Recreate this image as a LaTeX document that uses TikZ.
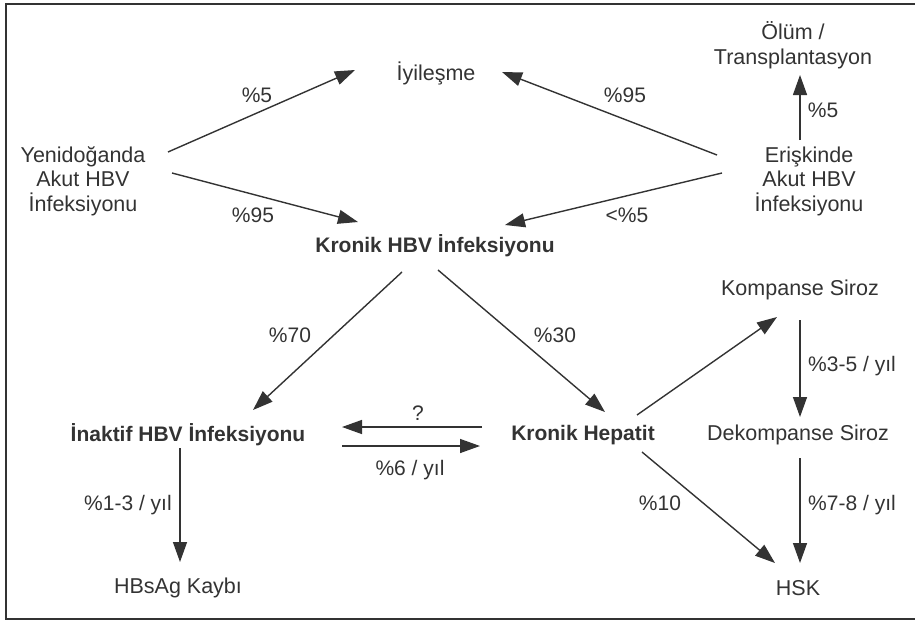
\documentclass[tikz,border=0pt]{standalone}
\usepackage{fontspec}
\setmainfont{Liberation Sans}
\usetikzlibrary{arrows.meta,calc}
\definecolor{ink}{HTML}{333333}

\begin{document}
\begin{tikzpicture}[
    x=1pt, y=-1pt,
    stage/.style={inner sep=0pt, align=center, text=ink, font=\fontsize{21.5}{24.5}\selectfont},
    keystage/.style={stage, font=\fontsize{21}{24}\selectfont\bfseries},
    rate/.style={inner sep=0pt, text=ink, font=\fontsize{21}{24}\selectfont},
    flow/.style={-{Triangle[length=20pt,width=14pt]}, line width=1.4pt, draw=ink}
]
\useasboundingbox (0,0) rectangle (915,621);
\draw[line width=2pt, ink] (915,4) -- (6,4) -- (6,619) -- (915,619);

% Stages
\node[stage] (yeni) at (83,181) {Yenidoğanda\\Akut HBV\\İnfeksiyonu};
\node[stage] (iyi) at (436,73) {İyileşme};
\node[stage] (olum) at (793,45) {Ölüm /\\Transplantasyon};
\node[stage] (eris) at (809,181) {Erişkinde\\Akut HBV\\İnfeksiyonu};
\node[keystage] (khbv) at (435,246) {Kronik HBV İnfeksiyonu};
\node[keystage] (inaktif) at (188,435) {İnaktif HBV İnfeksiyonu};
\node[keystage] (khep) at (583,435) {Kronik Hepatit};
\node[stage] (komp) at (800,290) {Kompanse Siroz};
\node[stage] (dekomp) at (798,435) {Dekompanse Siroz};
\node[stage] (hsk) at (798,588) {HSK};
\node[stage] (hbsag) at (178,588) {HBsAg Kaybı};

% Rates
\node[rate] (p5a) at (257,95) {\%5};
\node[rate] (p95a) at (253,215) {\%95};
\node[rate] (p95b) at (625,95) {\%95};
\node[rate] (p5b) at (627,215) {<\%5};
\node[rate] (p5c) at (823,110) {\%5};
\node[rate] (p70) at (290,335) {\%70};
\node[rate] (p30) at (555,335) {\%30};
\node[rate] (pq) at (418,413) {?};
\node[rate] (p6) at (410,470) {\%6 / yıl};
\node[rate] (p13) at (128,505) {\%1-3 / yıl};
\node[rate] (p35) at (852,366) {\%3-5 / yıl};
\node[rate] (p78) at (852,505) {\%7-8 / yıl};
\node[rate] (p10) at (660,503) {\%10};

% Acute infection
\draw[flow] ($(yeni)+(85,-29)$) -- ($(iyi)+(-81,-3)$);
\draw[flow] ($(yeni)+(89,-8)$) -- ($(khbv)+(-77,-24)$);
\draw[flow] ($(eris)+(-92,-26)$) -- ($(iyi)+(66,-1)$);
\draw[flow] ($(eris)+(-87,-8)$) -- ($(khbv)+(70,-21)$);
\draw[flow] ($(eris)+(-9,-41)$) -- ($(olum)+(7,30)$);

% Chronic infection
\draw[flow] ($(khbv)+(-33,26)$) -- ($(inaktif)+(65,-25)$);
\draw[flow] ($(khbv)+(3,24)$) -- ($(khep)+(22,-23)$);
\draw[flow] ($(khep)+(-101,-8)$) -- ($(inaktif)+(154,-8)$);
\draw[flow] ($(inaktif)+(154,11)$) -- ($(khep)+(-103,11)$);
\draw[flow] ($(inaktif)+(-8,13)$) -- ($(hbsag)+(2,-26)$);

% Cirrhosis and HCC
\draw[flow] ($(khep)+(54,-20)$) -- ($(komp)+(-23,27)$);
\draw[flow] ($(komp)+(0,30)$) -- ($(dekomp)+(2,-18)$);
\draw[flow] ($(dekomp)+(2,23)$) -- ($(hsk)+(2,-25)$);
\draw[flow] ($(khep)+(59,17)$) -- ($(hsk)+(-23,-25)$);

\end{tikzpicture}
\end{document}
